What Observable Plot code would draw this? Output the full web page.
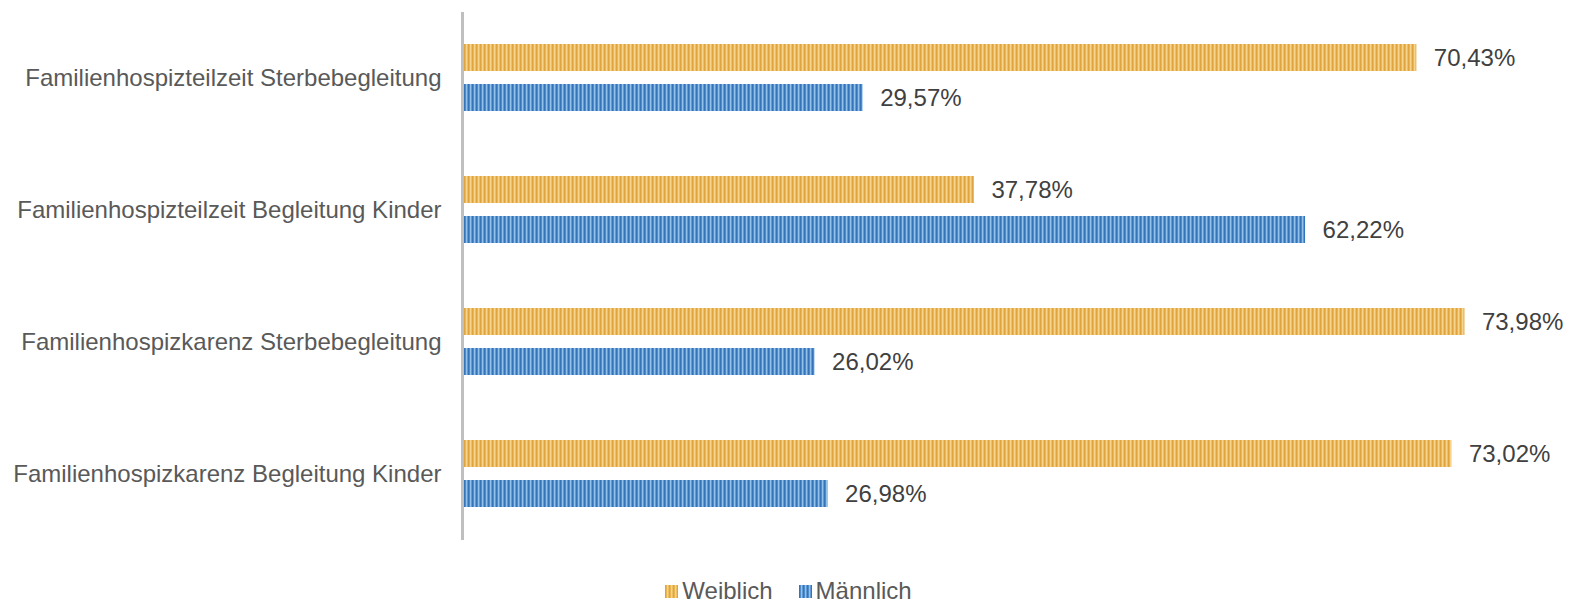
<!DOCTYPE html>
<html>
<head>
<meta charset="utf-8">
<script src="https://cdn.jsdelivr.net/npm/d3@7"></script>
<script src="https://cdn.jsdelivr.net/npm/@observablehq/plot@0.6"></script>
<style>
  html, body { margin: 0; padding: 0; background: #fff; }
  #chart svg { display: block; }
  .legend { display: flex; justify-content: center; gap: 26px; font-family: "Liberation Sans", Arial, sans-serif; font-size: 24px; color: #595959; padding-top: 17px; line-height: 28px; padding-left: 6px; }
  .legend span.item { display: inline-flex; align-items: center; gap: 4px; }
  .legend svg { display: block; }
</style>
</head>
<body>
<div id="chart"></div>
<div class="legend" id="legend"></div>
<script>
const categories = [
  "Familienhospizteilzeit Sterbebegleitung",
  "Familienhospizteilzeit Begleitung Kinder",
  "Familienhospizkarenz Sterbebegleitung",
  "Familienhospizkarenz Begleitung Kinder"
];
const series = ["Weiblich", "Männlich"];
const weiblich = [70.43, 37.78, 73.98, 73.02];
const maennlich = [29.57, 62.22, 26.02, 26.98];

const data = categories.flatMap((c, i) => [
  {category: c, gender: series[0], value: weiblich[i]},
  {category: c, gender: series[1], value: maennlich[i]}
]);

const fmt = v => v.toFixed(2).replace(".", ",") + "%";

const chart = Plot.plot({
  width: 1571,
  height: 560,
  marginLeft: 462,
  marginRight: 25,
  marginTop: 10,
  marginBottom: 19,
  style: {fontFamily: "'Liberation Sans', Arial, sans-serif", fontSize: "24px", color: "#595959", background: "white", overflow: "visible"},
  facet: {data, y: "category", marginRight: 0},
  x: {domain: [0, 80], axis: null},
  y: {domain: series, axis: null, paddingInner: 0.317, paddingOuter: 0.777},
  fy: {domain: categories, padding: 0, label: null, axis: "left", tickSize: 0, tickPadding: 21},
  marks: [
    Plot.barX(data, {filter: d => d.gender === series[0], x: "value", y: "gender", fill: "url(#patW)"}),
    Plot.barX(data, {filter: d => d.gender === series[1], x: "value", y: "gender", fill: "url(#patM)"}),
    Plot.ruleX([0], {stroke: "#BFBFBF", strokeWidth: 3}),
    Plot.text(data, {x: "value", y: "gender", text: d => fmt(d.value), dx: 17, textAnchor: "start", fill: "#404040", fontSize: 24})
  ]
});

function addPatterns(svgSel) {
  const defs = svgSel.insert("defs", ":first-child");
  const pats = [
    {id: "patW", base: "#EDBA58", dark: "#DFA43F", light: "#F7D48C"},
    {id: "patM", base: "#5592CF", dark: "#3574B8", light: "#93C1EA"}
  ];
  for (const p of pats) {
    const pat = defs.append("pattern").attr("id", p.id).attr("patternUnits", "userSpaceOnUse").attr("width", 4).attr("height", 20);
    pat.append("rect").attr("width", 4).attr("height", 20).attr("fill", p.base);
    pat.append("rect").attr("x", 0).attr("width", 1.2).attr("height", 20).attr("fill", p.dark);
    pat.append("rect").attr("x", 2).attr("width", 1.2).attr("height", 20).attr("fill", p.light);
  }
}
addPatterns(d3.select(chart));
document.getElementById("chart").appendChild(chart);

const legend = document.getElementById("legend");
series.forEach((s, i) => {
  const item = document.createElement("span");
  item.className = "item";
  const sw = d3.create("svg").attr("width", 13).attr("height", 13);
  addPatterns(sw);
  sw.append("rect").attr("width", 13).attr("height", 13).attr("fill", i === 0 ? "url(#patW)" : "url(#patM)");
  item.appendChild(sw.node());
  item.appendChild(document.createTextNode(s));
  legend.appendChild(item);
});
</script>
</body>
</html>
